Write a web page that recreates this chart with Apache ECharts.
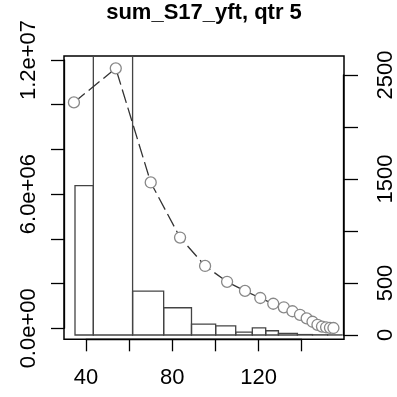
<!DOCTYPE html>
<html>
<head>
<meta charset="utf-8">
<script src="https://cdn.jsdelivr.net/npm/echarts@6/dist/echarts.min.js"></script>
<style>html,body{margin:0;padding:0;background:#fff}#c{width:397px;height:397px}</style>
</head>
<body>
<div id="c"></div>
<script>
// Histogram bins (length) and summed values (left axis)
const binStart = [34.9, 43.4, 61.6, 76.0, 88.9, 100.1, 109.4, 117.1, 123.3, 129.2, 138.0, 145.0, 152.0];
const binEnd   = [43.4, 61.6, 76.0, 88.9, 100.1, 109.4, 117.1, 123.3, 129.2, 138.0, 145.0, 152.0, 158.7];
const binValue = [6.68e6, 1.40e7, 1.96e6, 1.22e6, 0.49e6, 0.41e6, 0.125e6, 0.32e6, 0.19e6, 0.075e6, 0.02e6, 0.01e6, 0.005e6];
// Points (length, right-axis value)
const ptLen = [34.4, 53.8, 70.0, 83.6, 95.2, 105.4, 113.7, 120.8, 126.8, 131.7, 135.7, 139.2, 142.3, 145.0, 147.3, 149.4, 151.3, 153.1, 154.7];
const ptVal = [2237, 2564, 1468, 939, 666, 514, 426, 358, 303, 269, 231, 197, 163, 130, 101, 84, 77, 72, 70];
// Tick labels
const xTicksShown = [40, 80, 120];
const leftTicksShown = {0: '0.0e+00', 6000000: '6.0e+06', 12000000: '1.2e+07'};
const rightTicksShown = [0, 500, 1500, 2500];
const titleText = 'sum_S17_yft, qtr 5';

const FONT = 'Liberation Sans, Arial, sans-serif';
const chart = echarts.init(document.getElementById('c'), null, {renderer: 'canvas'});

const binData = binStart.map((s, i) => [s, binEnd[i], binValue[i]]);
const ptData = ptLen.map((x, i) => [x, ptVal[i]]);

const hiddenAxis = (gi, min, max) => ({gridIndex: gi, type: 'value', min: min, max: max, show: false,
  axisLine: {show: false, onZero: false}, axisTick: {show: false}, axisLabel: {show: false}, splitLine: {show: false}});

const option = {
  animation: false,
  backgroundColor: '#fff',
  title: {
    text: titleText, left: 204, top: 2, padding: 0, textAlign: 'center',
    textStyle: {fontFamily: FONT, fontSize: 22, fontWeight: 'bold', color: '#000'}
  },
  grid: [
    {left: 64, top: 56, width: 280, height: 283.3, show: true, borderColor: '#000', borderWidth: 1.5, backgroundColor: 'transparent', containLabel: false},
    {left: 64, top: 60, width: 280, height: 268.3, containLabel: false},
    {left: 64, top: 75, width: 280, height: 260, containLabel: false},
    {left: 86, top: 56, width: 215.7, height: 283.3, containLabel: false}
  ],
  xAxis: [
    hiddenAxis(0, 29.8, 159.6),
    hiddenAxis(1, 0, 1),
    hiddenAxis(2, 0, 1),
    {gridIndex: 3, type: 'value', min: 40, max: 140, interval: 20, position: 'bottom',
      splitLine: {show: false},
      axisLine: {show: true, onZero: false, lineStyle: {color: '#000', width: 1.3}},
      axisTick: {show: true, inside: false, length: 12, lineStyle: {color: '#000', width: 1.3}},
      axisLabel: {show: true, margin: 28, fontFamily: FONT, fontSize: 22, color: '#000',
        formatter: v => xTicksShown.includes(v) ? String(v) : ''}
    }
  ],
  yAxis: [
    hiddenAxis(0, -0.192e6, 12.483e6),
    hiddenAxis(0, -38.5, 2682.7),
    {gridIndex: 1, type: 'value', min: 0, max: 12000000, interval: 2000000, position: 'left',
      splitLine: {show: false},
      axisLine: {show: true, onZero: false, lineStyle: {color: '#000', width: 1.3}},
      axisTick: {show: true, inside: false, length: 13, lineStyle: {color: '#000', width: 1.3}},
      axisLabel: {show: true, rotate: 90, margin: 24, fontFamily: FONT, fontSize: 22, color: '#000',
        formatter: v => leftTicksShown[v] !== undefined ? leftTicksShown[v] : ''}
    },
    {gridIndex: 2, type: 'value', min: 0, max: 2500, interval: 500, position: 'right',
      splitLine: {show: false},
      axisLine: {show: true, onZero: false, lineStyle: {color: '#000', width: 1.3}},
      axisTick: {show: true, inside: false, length: 15, lineStyle: {color: '#000', width: 1.3}},
      axisLabel: {show: true, rotate: 90, margin: 32, fontFamily: FONT, fontSize: 22, color: '#000',
        formatter: v => rightTicksShown.includes(v) ? String(v) : ''}
    },
    hiddenAxis(3, 0, 1)
  ],
  series: [
    {
      type: 'custom', xAxisIndex: 0, yAxisIndex: 0, data: binData, z: 2,
      renderItem: function (params, api) {
        const p0 = api.coord([api.value(0), api.value(2)]);
        const p1 = api.coord([api.value(1), 0]);
        const cs = params.coordSys;
        const r = echarts.graphic.clipRectByRect(
          {x: p0[0], y: p0[1], width: p1[0] - p0[0], height: p1[1] - p0[1]},
          {x: cs.x, y: cs.y, width: cs.width, height: cs.height});
        if (!r) return null;
        return {type: 'rect', shape: r, style: {fill: 'transparent', stroke: '#444', lineWidth: 1.3}};
      }
    },
    {
      type: 'line', xAxisIndex: 0, yAxisIndex: 1, data: ptData, z: 3,
      symbol: 'circle', symbolSize: 11, showSymbol: true,
      itemStyle: {color: '#fff', borderColor: '#888', borderWidth: 1.3},
      lineStyle: {color: '#333', width: 1.3, type: [14, 5]},
      emphasis: {disabled: true}
    }
  ]
};
chart.setOption(option);
</script>
</body>
</html>
